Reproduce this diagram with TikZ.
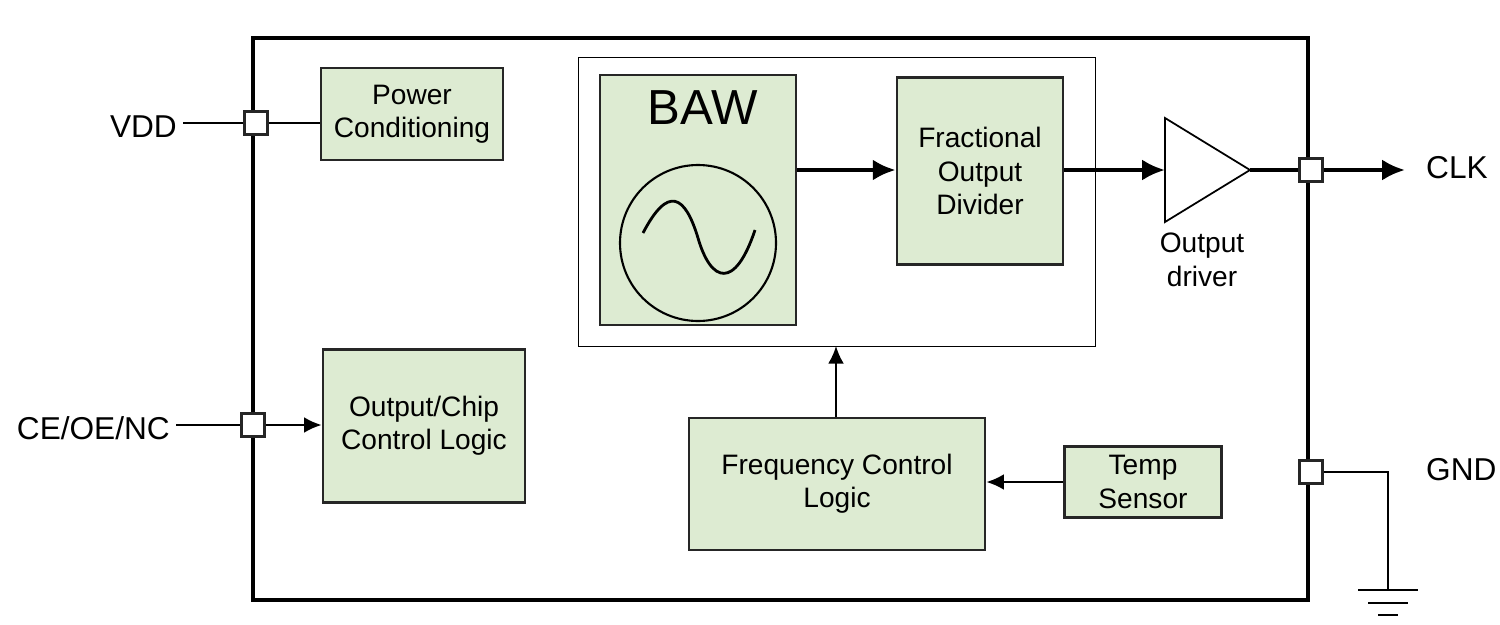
\documentclass[tikz,border=0pt]{standalone}
\usepackage{fontspec}
\setmainfont{Liberation Sans}
\usetikzlibrary{arrows.meta}
\begin{document}
\begin{tikzpicture}[x=0.02cm,y=-0.02cm,
 blk/.style={draw=black!85,line width=1.6pt,fill={rgb,255:red,221;green,235;blue,210},align=center,font=\fontsize{16}{19}\selectfont},
 pin/.style={draw=black!85,line width=1.4pt,fill=white,minimum size=0.46cm,inner sep=0pt},
 wire/.style={line width=1.2pt},
 arr/.style={line width=1.2pt,-{Latex[length=10pt,width=9pt]}},
 tarr/.style={line width=2.4pt,-{Latex[length=13pt,width=12pt]}},
 lbl/.style={font=\fontsize{18}{22}\selectfont}]
\useasboundingbox (0,0) rectangle (1500,625);
\draw[line width=2.4pt] (253,38) rectangle (1308,600);
\draw[line width=0.5pt] (578,57) rectangle (1095,346);
\node[blk,minimum width=3.64cm,minimum height=1.84cm] (pc) at (412,114) {Power\\Conditioning};
\node[blk,minimum width=3.92cm,minimum height=5cm] (baw) at (698,200) {};
\node[font=\fontsize{28}{32}\selectfont] (bawt) at (703,108) {BAW};
\draw[line width=1.2pt] (698,243) circle (78);
\draw[line width=1.6pt] (643,233) .. controls (668,185) and (685,195) .. (698,238) .. controls (711,283) and (735,290) .. (755,230);
\node[blk,minimum width=3.32cm,minimum height=3.74cm] (fod) at (980,171) {Fractional\\Output\\Divider};
\node[blk,minimum width=4.04cm,minimum height=3.06cm] (occ) at (424,426) {Output/Chip\\Control Logic};
\node[blk,minimum width=5.92cm,minimum height=2.64cm] (fcl) at (837,484) {Frequency Control\\Logic};
\node[blk,minimum width=3.14cm,minimum height=1.42cm] (ts) at (1143,482) {Temp\\Sensor};
\draw[line width=1pt] (1165,118) -- (1250,170) -- (1165,222) -- cycle;
\coordinate (tin) at (1165,170); \coordinate (tout) at (1250,170);
\node[align=center,font=\fontsize{16}{19}\selectfont] (od) at (1202,260) {Output\\driver};
\node[pin] (p1) at (256,123) {};
\node[pin] (p2) at (253,425) {};
\node[pin] (p3) at (1311,170) {};
\node[pin] (p4) at (1311,472) {};
\node[lbl,anchor=east] (vdd) at (183,127) {VDD};
\node[lbl,anchor=east] (ce) at (176,428) {CE/OE/NC};
\node[lbl,anchor=west] (clk) at (1420,168) {CLK};
\node[lbl,anchor=west] (gnd) at (1420,470) {GND};
\draw[wire] (vdd.east|-p1) -- (p1); \draw[wire] (p1) -- (pc.west|-p1);
\draw[wire] (ce.east|-p2) -- (p2);
\draw[arr] (p2) -- (occ.west|-p2);
\draw[tarr] (baw.east|-tin) -- (fod.west|-tin);
\draw[tarr] (fod.east|-tin) -- (tin);
\draw[line width=2.4pt] (tout) -- (p3);
\coordinate (clkend) at (1405,170);
\draw[tarr] (p3) -- (clkend);
\draw[arr] (ts.west) -- (fcl.east|-ts.west);
\coordinate (ib) at (836,346);
\draw[arr] (fcl.north-|ib) -- (ib);
\coordinate (g1) at (1388,472); \coordinate (g2) at (1388,590);
\draw[wire] (p4) -- (g1) -- (g2);
\draw[line width=1.6pt] (1358,590) -- (1418,590) (1368,603) -- (1408,603) (1378,615) -- (1398,615);
\end{tikzpicture}
\end{document}
